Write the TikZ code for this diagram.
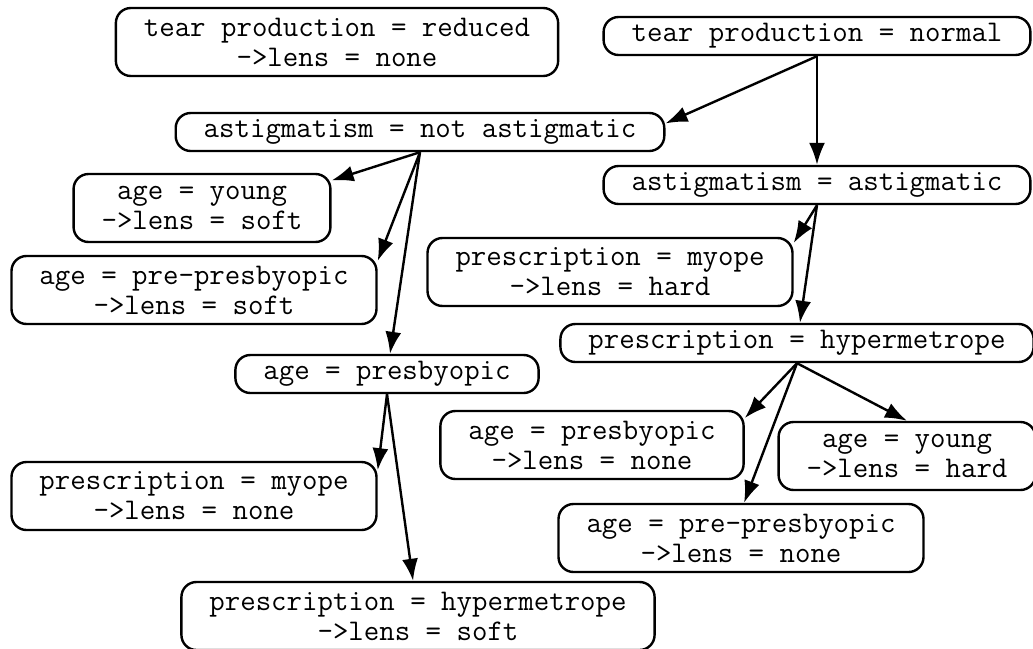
\documentclass[tikz,border=0pt]{standalone}
\usepackage{fontspec}
\usetikzlibrary{arrows.meta,positioning}

\begin{document}
\begin{tikzpicture}[x=0.5pt,y=-0.5pt,
        every node/.style={shape=rectangle,draw,rounded corners=7.5pt,line width=1.2pt,align=center,
            font=\ttfamily\fontsize{15}{15}\selectfont,inner xsep=14pt,inner ysep=3pt,minimum height=19pt},
        leaf/.style={minimum height=34pt},
        every edge/.style={draw,line width=1.2pt,-{Latex[length=11pt,width=8pt]}},
        ]
\useasboundingbox (0,0) rectangle (1033,648);

\node [leaf] (TR) at (337,42) {tear production = reduced\\->lens = none};
\node (TN) at (817,36) {tear production = normal};
\node (AN) at (420,132) {astigmatism = not astigmatic};
\node (AA) at (817,185) {astigmatism = astigmatic};
\node [leaf] (Y1) at (202,208) {age = young\\->lens = soft};
\node [leaf] (PP1) at (194,290) {age = pre-presbyopic\\->lens = soft};
\node [leaf] (PM1) at (610,272) {prescription = myope\\->lens = hard};
\node (PH1) at (797,343) {prescription = hypermetrope};
\node (PB1) at (387,374) {age = presbyopic};
\node [leaf] (PM2) at (194,496) {prescription = myope\\->lens = none};
\node [leaf] (PH2) at (418,616) {prescription = hypermetrope\\->lens = soft};
\node [leaf] (PB2) at (592,445) {age = presbyopic\\->lens = none};
\node [leaf] (Y2) at (907,456) {age = young\\->lens = hard};
\node [leaf] (PP2) at (741,538) {age = pre-presbyopic\\->lens = none};

    \path[draw=black] (TN.south) edge (AN.2);
    \path[draw=black] (TN.south) edge (AA);

    \path[draw=black] (AN.south) edge (Y1.12);
    \path[draw=black] (AN.south) edge (PP1.9);
    \path[draw=black] (AN.south) edge (PB1);

    \path[draw=black] (AA.south) edge (PM1.9);
    \path[draw=black] (AA.south) edge (PH1);

    \path[draw=black] (PB1.south) edge (PM2.8);
    \path[draw=black] (PB1.south) edge (PH2);

    \path[draw=black] (PH1.south) edge (PB2.10);
    \path[draw=black] (PH1.south) edge (PP2.85);
    \path[draw=black] (PH1.south) edge (Y2.north);

\end{tikzpicture}
\end{document}
